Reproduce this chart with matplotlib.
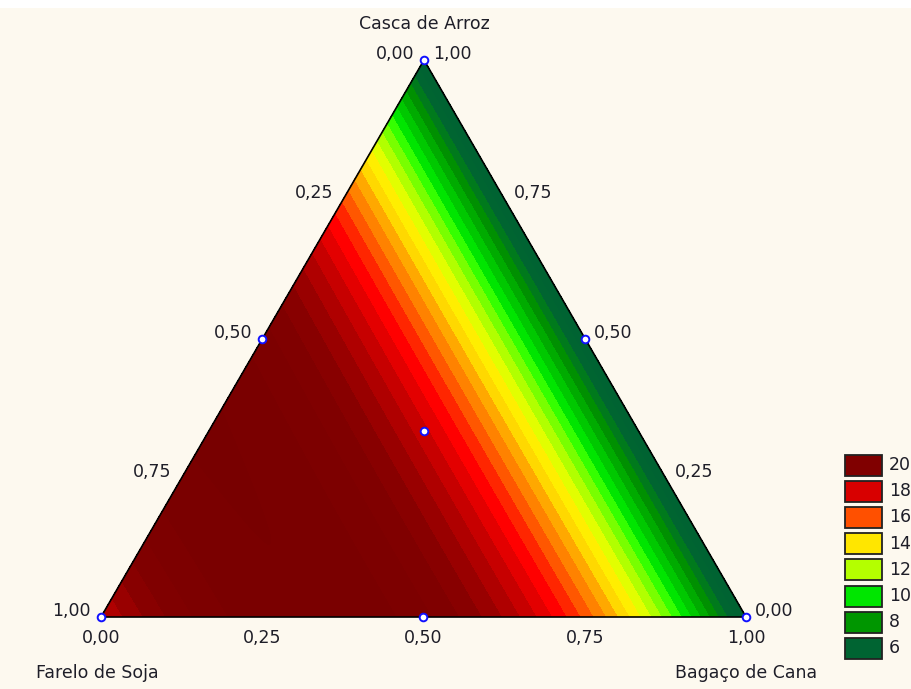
import numpy as np
import matplotlib
matplotlib.use("Agg")
import matplotlib.pyplot as plt
import matplotlib.tri as mtri
from matplotlib.colors import ListedColormap, BoundaryNorm
from matplotlib.patches import Rectangle

# ---------------- data (mixture design) ----------------
comp_names = ["Farelo de Soja", "Casca de Arroz", "Bagaço de Cana"]
farelo = [1.0, 0.0, 0.0, 0.5, 0.5, 0.0, 1/3]
casca  = [0.0, 1.0, 0.0, 0.5, 0.0, 0.5, 1/3]
bagaco = [0.0, 0.0, 1.0, 0.0, 0.5, 0.5, 1/3]
response = [18.5, 5.15, 5.15, 21.6, 21.5, 5.15, 18.2]

legend_values = [20, 18, 16, 14, 12, 10, 8, 6]
legend_colors = ["#800000", "#d80000", "#ff5000", "#ffe600",
                 "#b4ff00", "#00e600", "#009600", "#006432"]
tick_values = [0.0, 0.25, 0.5, 0.75, 1.0]

# ---------------- layout ----------------
W, H = 912, 689
TOP = np.array([424.0, 60.0])
BL = np.array([101.0, 617.0])
BR = np.array([746.0, 617.0])
BG = "#fdf9ef"
TXT = "#1e1e28"
FS = 12.5

def to_xy(f, c, b):
    f = np.asarray(f, float); c = np.asarray(c, float); b = np.asarray(b, float)
    x = f * BL[0] + c * TOP[0] + b * BR[0]
    y = f * BL[1] + c * TOP[1] + b * BR[1]
    return x, y

# fit special cubic Scheffe model to the design points
F = np.array(farelo); C = np.array(casca); B = np.array(bagaco)
X = np.column_stack([F, C, B, F*C, F*B, C*B, F*C*B])
coef, *_ = np.linalg.lstsq(X, np.array(response), rcond=None)

n = 240
pts = []
for i in range(n + 1):
    for j in range(n + 1 - i):
        pts.append((i / n, j / n, (n - i - j) / n))
pts = np.array(pts)
gf, gc, gb = pts[:, 0], pts[:, 1], pts[:, 2]
Z = np.column_stack([gf, gc, gb, gf*gc, gf*gb, gc*gb, gf*gc*gb]) @ coef
gx, gy = to_xy(gf, gc, gb)
tri = mtri.Triangulation(gx, gy)

# banded colours
levels = np.arange(3.999, 24.0, 2/3)
anch_v = [4, 6.3, 7.0, 7.7, 8.3, 9.0, 9.7, 10.3, 11.0, 11.7, 12.3, 13.0, 13.7,
          14.3, 15.0, 15.7, 16.3, 17.0, 17.7, 18.3, 19.0, 19.7, 20.3, 21.0, 22.3, 24]
anch_c = [(0, 98, 50), (0, 100, 50), (0, 122, 28), (0, 145, 0), (0, 170, 0),
          (0, 200, 0), (0, 230, 0), (50, 255, 0), (120, 255, 0), (180, 255, 0),
          (225, 255, 0), (255, 238, 0), (255, 215, 0), (255, 170, 0), (255, 130, 0),
          (255, 85, 0), (255, 40, 0), (255, 0, 0), (226, 0, 0), (200, 0, 0),
          (175, 0, 0), (152, 0, 0), (136, 0, 0), (128, 0, 0), (122, 0, 0), (118, 0, 0)]
anch_c = np.array(anch_c) / 255.0
mids = 0.5 * (levels[:-1] + levels[1:])
band_cols = [tuple(np.interp(m, anch_v, anch_c[:, k]) for k in range(3)) for m in mids]
cmap = ListedColormap(band_cols)
norm = BoundaryNorm(levels, cmap.N)

# ---------------- figure ----------------
fig = plt.figure(figsize=(W / 100, H / 100), dpi=100, facecolor=BG)
ax = fig.add_axes([0, 0, 1, 1])
ax.set_xlim(0, W)
ax.set_ylim(H, 0)
ax.set_facecolor(BG)
ax.axis("off")
ax.add_patch(Rectangle((0, 0), W, 8, facecolor="white", edgecolor="none", zorder=0))

ax.tricontourf(tri, Z, levels=levels, cmap=cmap, norm=norm, zorder=1,
               antialiased=False)

# triangle outline
tx, ty = to_xy([1, 0, 0, 1], [0, 1, 0, 0], [0, 0, 1, 0])
ax.plot(tx, ty, color="black", lw=1.2, zorder=3)

# design points
px, py = to_xy(farelo, casca, bagaco)
ax.plot(px, py, ls="none", marker="o", ms=5.5, mfc="white", mec="#1010ff",
        mew=1.4, zorder=4)

def lab(v):
    return f"{v:.2f}".replace(".", ",")

# left edge: Farelo de Soja (0 at top, 1 at bottom-left)
for v in tick_values:
    x, y = to_xy(v, 1 - v, 0)
    ax.text(x - 10, y - 6, lab(v), ha="right", va="center", fontsize=FS, color=TXT)
# right edge: Casca de Arroz (1 at top, 0 at bottom-right)
for v in tick_values:
    x, y = to_xy(0, v, 1 - v)
    ax.text(x + 9, y - 6, lab(v), ha="left", va="center", fontsize=FS, color=TXT)
# bottom edge: Bagaço de Cana
for v in tick_values:
    x, y = to_xy(1 - v, 0, v)
    ax.text(x, y + 21, lab(v), ha="center", va="center", fontsize=FS, color=TXT)

ax.text(TOP[0], 24, comp_names[1], ha="center", va="center", fontsize=FS, color=TXT)
ax.text(BL[0] - 4, 673, comp_names[0], ha="center", va="center", fontsize=FS, color=TXT)
ax.text(BR[0], 673, comp_names[2], ha="center", va="center", fontsize=FS, color=TXT)

# legend
for k, (v, c) in enumerate(zip(legend_values, legend_colors)):
    yc = 465 + 26.2 * k
    ax.add_patch(Rectangle((845, yc - 10.5), 37, 21, facecolor=c,
                           edgecolor="#222222", lw=1.3, zorder=5))
    ax.text(889, yc, str(v), ha="left", va="center", fontsize=FS, color=TXT)

fig.savefig("out.png", dpi=100, facecolor=BG)
